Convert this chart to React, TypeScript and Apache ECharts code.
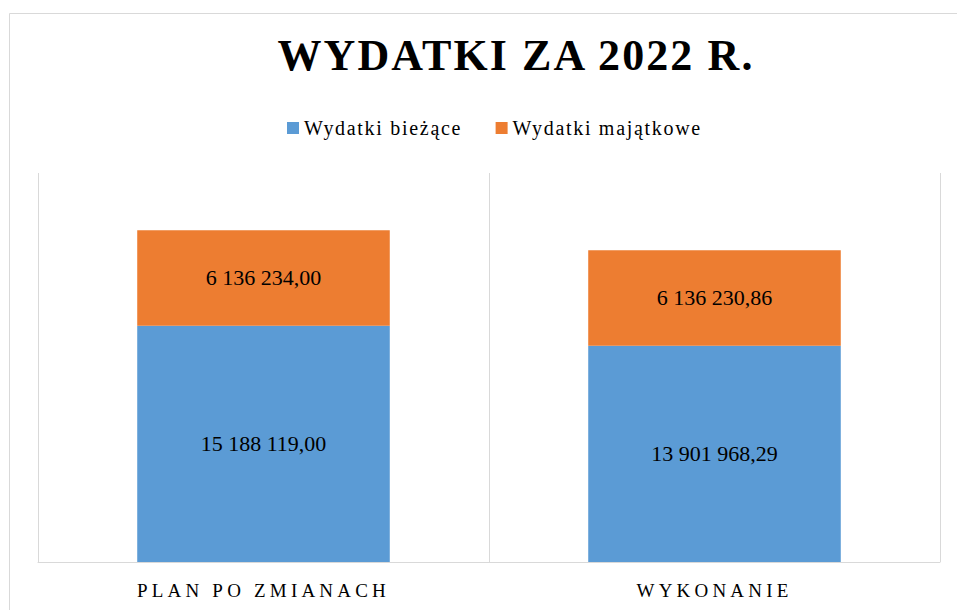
import React, { useEffect, useRef } from "react";
import * as echarts from "echarts";

const categories = ["PLAN PO ZMIANACH", "WYKONANIE"];
const wydatkiBiezace = [15188119.0, 13901968.29];
const wydatkiMajatkowe = [6136234.0, 6136230.86];
const seriesNames = ["Wydatki bieżące", "Wydatki majątkowe"];
const titleText = "WYDATKI ZA 2022 R.";

const fmt = (v: number) => {
  const [i, d] = v.toFixed(2).split(".");
  return i.replace(/\B(?=(\d{3})+(?!\d))/g, " ") + "," + d;
};

const FONT = '"Liberation Serif", "Times New Roman", serif';

export default function App() {
  const ref = useRef<HTMLDivElement>(null);
  useEffect(() => {
    if (!ref.current) return;
    const chart = echarts.init(ref.current, undefined, { renderer: "svg" });
    const label = {
      show: true,
      position: "inside" as const,
      color: "#000",
      fontFamily: FONT,
      fontSize: 22,
      formatter: (p: any) => fmt(p.value),
    };
    chart.setOption({
      animation: false,
      backgroundColor: "#fff",
      graphic: [
        {
          type: "rect",
          z: -10,
          shape: { x: 9.5, y: 13.5, width: 1000, height: 1000 },
          style: { fill: "none", stroke: "#D9D9D9", lineWidth: 1 },
        },
        {
          type: "text",
          x: 516,
          y: 55,
          style: {
            text: titleText,
            font: `bold 44px ${FONT}`,
            fill: "#000",
            textAlign: "center",
            textVerticalAlign: "middle",
          },
        },
      ],
      legend: {
        left: 282,
        top: 113,
        icon: "rect",
        itemWidth: 12,
        itemHeight: 12,
        itemGap: 59,
        data: seriesNames,
        textStyle: {
          fontFamily: FONT,
          fontSize: 20,
          color: "#000",
        },
      },
      grid: { left: 38, right: 17, top: 173, bottom: 48 },
      xAxis: {
        type: "category",
        data: categories,
        axisLine: { lineStyle: { color: "#D9D9D9", width: 1 } },
        axisTick: { show: false },
        splitLine: { show: true, lineStyle: { color: "#D9D9D9", width: 1 } },
        axisLabel: {
          fontFamily: FONT,
          fontSize: 19,
          color: "#000",
          margin: 19,
        },
      },
      yAxis: {
        type: "value",
        min: 0,
        max: 25000000,
        show: false,
        splitLine: { show: false },
      },
      series: [
        {
          name: seriesNames[0],
          type: "bar",
          stack: "total",
          barWidth: "56%",
          itemStyle: { color: "#5B9BD5" },
          label,
          data: wydatkiBiezace,
        },
        {
          name: seriesNames[1],
          type: "bar",
          stack: "total",
          barWidth: "56%",
          itemStyle: { color: "#ED7D31" },
          label,
          data: wydatkiMajatkowe,
        },
      ],
    });
    return () => chart.dispose();
  }, []);
  return (
    <>
      <style>{`
        #chart text[style*="44px"] { letter-spacing: 2.1px; }
        #chart text[style*="20px"] { letter-spacing: 1.7px; }
        #chart text[style*="19px"] { letter-spacing: 4.2px; }
      `}</style>
      <div
        id="chart"
        ref={ref}
        style={{ position: "absolute", left: 0, top: 0, width: 957, height: 610 }}
      />
    </>
  );
}
